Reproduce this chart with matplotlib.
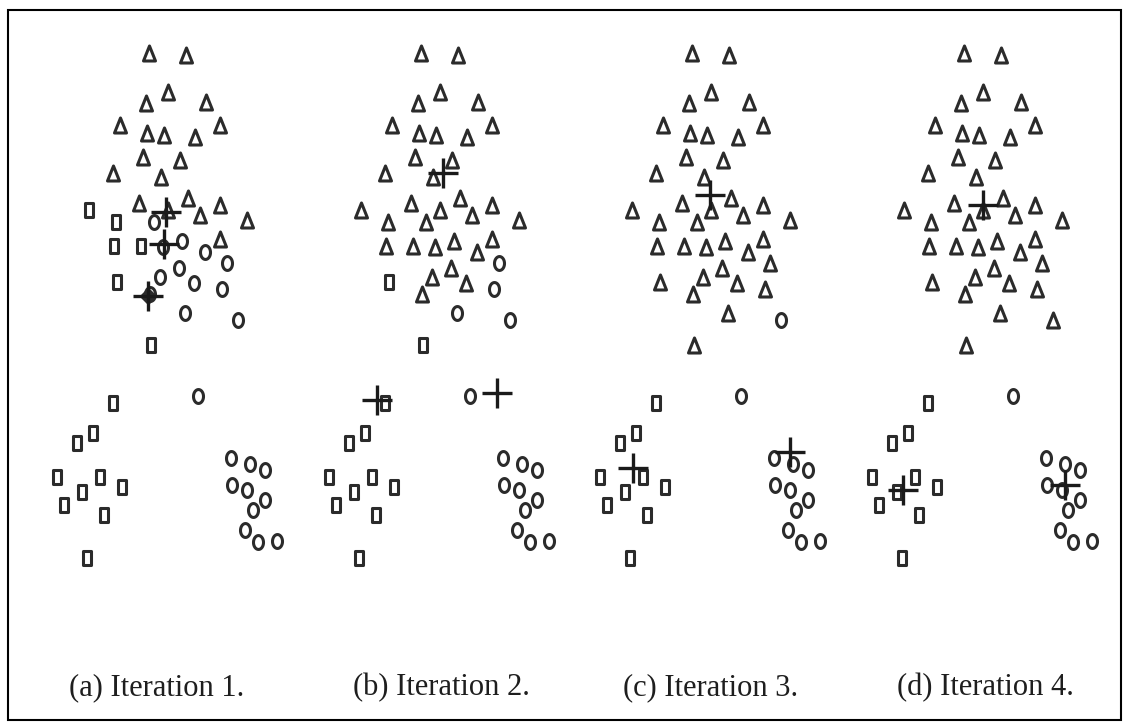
import numpy as np
import matplotlib
matplotlib.use("Agg")
import matplotlib.pyplot as plt
from matplotlib.path import Path
from matplotlib.patches import Rectangle

# ---- sample points (shared by every iteration) ----
point_x = [
    # upper group
    149, 186, 168, 146, 206, 120, 147, 164, 195, 220, 143, 180, 113, 161,
    # middle group
    89, 116, 139, 168, 188, 200, 220, 247, 154, 114, 141, 163, 182, 205,
    220, 227, 179, 160, 194, 222, 150, 117, 185, 238, 151,
    # isolated points
    113, 198,
    # lower-left group
    77, 93, 57, 82, 100, 122, 64, 104, 87,
    # lower-right group
    231, 250, 265, 232, 247, 265, 253, 245, 258, 277,
]
point_y = [
    53, 55, 92, 103, 102, 125, 133, 135, 137, 125, 157, 160, 173, 177,
    210, 222, 203, 210, 198, 215, 205, 220, 222, 246, 246, 247, 241, 252,
    239, 263, 268, 277, 283, 289, 294, 282, 313, 320, 345,
    403, 396,
    443, 433, 477, 492, 477, 487, 505, 515, 558,
    458, 464, 470, 485, 490, 500, 510, 530, 542, 541,
]

# cluster assignment per iteration: T = triangle, S = square, C = circle
upper = "T" * 14
tail = "SC" + "S" * 9 + "C" * 10
assign_iter1 = upper + "SSTTTTTTCSSCCCTCCCCCCSCCS" + tail
assign_iter2 = upper + "T" * 15 + "CTTTCTSCCS" + tail
assign_iter3 = upper + "T" * 23 + "C" + "T" + tail
assign_iter4 = upper + "T" * 25 + tail

# centroid positions per iteration
centroid_x = [[166, 164, 148], [171, 105, 225], [167, 90, 247], [168, 88, 250]]
centroid_y = [[212, 244, 296], [173, 400, 393], [195, 468, 452], [205, 490, 485]]

captions = ["(a) Iteration 1.", "(b) Iteration 2.", "(c) Iteration 3.", "(d) Iteration 4."]
assignments = [assign_iter1, assign_iter2, assign_iter3, assign_iter4]

# ---- marker shapes ----
tri_path = Path([(0, 1), (-0.8, -1), (0.8, -1), (0, 1)], closed=True)
sq_path = Path([(-0.62, -1), (0.62, -1), (0.62, 1), (-0.62, 1), (-0.62, -1)], closed=True)
t = np.linspace(0, 2 * np.pi, 40)
circ_path = Path(np.column_stack([0.72 * np.cos(t), np.sin(t)]), closed=True)
marker_for = {"T": (tri_path, 10.8), "S": (sq_path, 9.4), "C": (circ_path, 10.0)}

ink = "#2b2b2b"

W, H = 1128, 722
fig = plt.figure(figsize=(W / 100, H / 100), dpi=100)
fig.patch.set_facecolor("white")

panel_shift = [0, 272, 543, 815]
caption_x = [157, 441, 711, 985]
x0, x1, y0, y1 = 30, 300, 20, 600

px = np.array(point_x)
py = np.array(point_y)

for k in range(4):
    left = (x0 + panel_shift[k]) / W
    ax = fig.add_axes([left, (H - y1) / H, (x1 - x0) / W, (y1 - y0) / H])
    ax.set_xlim(x0, x1)
    ax.set_ylim(y1, y0)
    ax.axis("off")
    lab = np.array(list(assignments[k]))
    for key, (mk, ms) in marker_for.items():
        sel = lab == key
        ax.plot(px[sel], py[sel], ls="none", marker=mk, ms=ms,
                mfc="none", mec=ink, mew=2.2)
    if k == 0:
        ax.plot(centroid_x[k][2], centroid_y[k][2], ls="none", marker="D",
                ms=8, color=ink)
    ax.plot(centroid_x[k], centroid_y[k], ls="none", marker="+", ms=22,
            mew=2.4, color="#1a1a1a")
    fig.text(caption_x[k] / W, 1 - 688 / H, captions[k], ha="center", va="center",
             family="Liberation Serif", fontsize=22, color="#1e1e1e")

fig.patches.append(Rectangle((8 / W, 2 / H), (1121 - 8) / W, (712 - 2) / H,
                             transform=fig.transFigure, fill=False,
                             lw=1.5, ec="black"))

fig.savefig("out.png", dpi=100, facecolor="white")
